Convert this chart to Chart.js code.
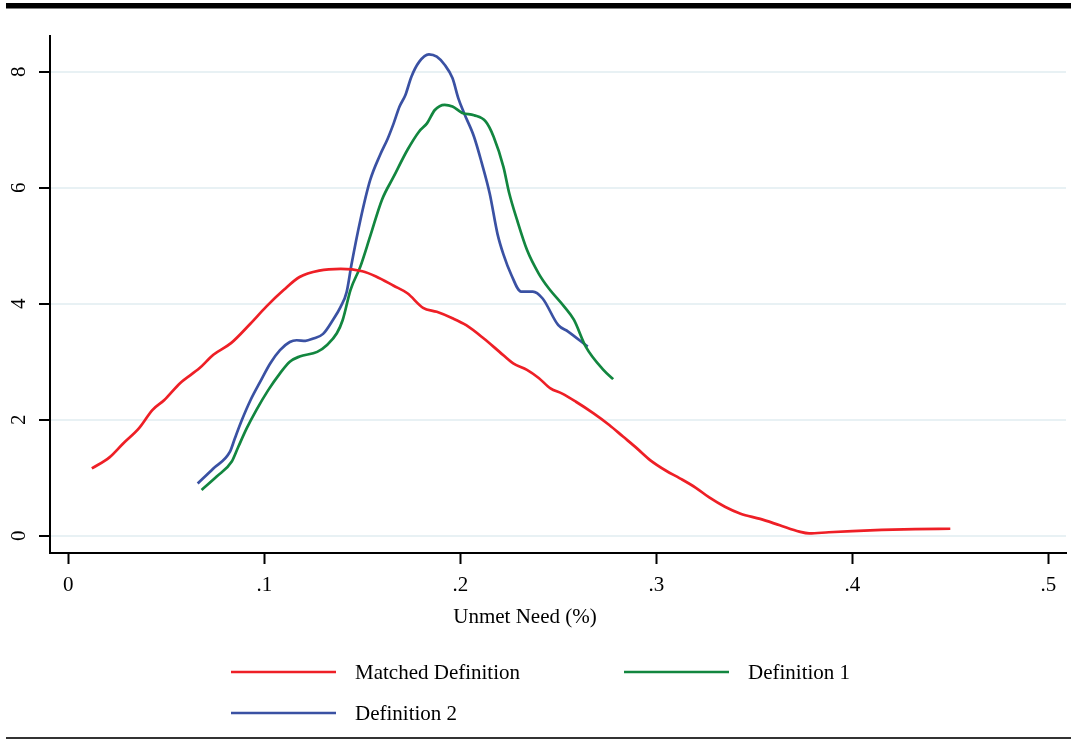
<!DOCTYPE html>
<html>
<head>
<meta charset="utf-8">
<script src="https://cdn.jsdelivr.net/npm/chart.js@4.4.1/dist/chart.umd.min.js"></script>
<style>
  html, body { margin: 0; padding: 0; background: #ffffff; }
  #wrap { width: 1071px; height: 741px; }
</style>
</head>
<body>
<div id="wrap"><canvas id="c" width="1071" height="741"></canvas></div>
<script>
// ---- data ----
const seriesLabels = ["Matched Definition", "Definition 1", "Definition 2"];

const matchedX = [0.012,0.021,0.028,0.036,0.043,0.049,0.057,0.067,0.074,0.083,0.093,0.101,0.110,0.118,0.128,0.139,0.150,0.157,0.166,0.173,0.181,0.188,0.196,0.203,0.212,0.220,0.227,0.234,0.240,0.246,0.252,0.259,0.268,0.276,0.283,0.290,0.297,0.305,0.312,0.320,0.327,0.335,0.343,0.353,0.363,0.373,0.378,0.388,0.400,0.415,0.432,0.450];
const matchedY = [1.16,1.35,1.59,1.85,2.17,2.34,2.63,2.89,3.12,3.32,3.66,3.95,4.24,4.46,4.57,4.60,4.56,4.47,4.31,4.18,3.93,3.86,3.75,3.63,3.40,3.17,2.97,2.86,2.72,2.54,2.45,2.31,2.11,1.91,1.71,1.51,1.30,1.12,0.99,0.83,0.66,0.50,0.38,0.29,0.18,0.07,0.04,0.06,0.08,0.10,0.115,0.12];

const def1X = [0.068,0.0757,0.0834,0.0867,0.091,0.096,0.102,0.108,0.113,0.118,0.127,0.132,0.137,0.140,0.144,0.149,0.154,0.160,0.166,0.173,0.179,0.183,0.187,0.192,0.196,0.201,0.207,0.213,0.217,0.222,0.225,0.229,0.234,0.240,0.245,0.253,0.258,0.264,0.273,0.278];
const def1Y = [0.79,1.02,1.28,1.53,1.85,2.17,2.51,2.80,3.00,3.09,3.17,3.29,3.49,3.72,4.24,4.64,5.16,5.79,6.19,6.65,6.97,7.11,7.34,7.43,7.40,7.29,7.25,7.14,6.88,6.36,5.90,5.44,4.93,4.52,4.27,3.95,3.72,3.26,2.86,2.70];

const def2X = [0.066,0.074,0.0825,0.085,0.0885,0.093,0.098,0.103,0.108,0.113,0.1165,0.121,0.125,0.130,0.135,0.139,0.142,0.1445,0.149,0.154,0.159,0.163,0.166,0.169,0.172,0.175,0.179,0.184,0.188,0.192,0.196,0.199,0.202,0.207,0.211,0.215,0.219,0.222,0.226,0.231,0.237,0.242,0.250,0.255,0.265];
const def2Y = [0.90,1.16,1.45,1.68,1.99,2.34,2.66,2.97,3.20,3.34,3.37,3.36,3.40,3.48,3.72,3.95,4.20,4.68,5.44,6.13,6.56,6.85,7.11,7.40,7.60,7.91,8.17,8.30,8.26,8.12,7.89,7.54,7.28,6.88,6.42,5.90,5.20,4.85,4.50,4.21,4.21,4.09,3.63,3.52,3.26];

const xTickValues = [0, 0.1, 0.2, 0.3, 0.4, 0.5];
const xTickLabels = ["0", ".1", ".2", ".3", ".4", ".5"];
const yTickValues = [0, 2, 4, 6, 8];
const yTickLabels = ["0", "2", "4", "6", "8"];
const xAxisTitle = "Unmet Need (%)";

// ---- styles ----
const colors = ["#ee1f26", "#12863f", "#3a51a3"];
const FONT = "21px 'Liberation Serif', 'Times New Roman', serif";

function pts(xs, ys) { return xs.map((x, i) => ({ x: x, y: ys[i] })); }

const frame = {
  id: 'frame',
  beforeDraw(chart) {
    const ctx = chart.ctx;
    ctx.save();
    ctx.fillStyle = '#ffffff';
    ctx.fillRect(0, 0, chart.width, chart.height);
    ctx.restore();
  },
  afterDraw(chart) {
    const ctx = chart.ctx;
    const xs = chart.scales.x, ys = chart.scales.y;
    ctx.save();
    // top thick rule and bottom thin rule
    ctx.fillStyle = '#000000';
    ctx.fillRect(6, 3, chart.width - 6, 5.5);
    ctx.fillStyle = '#333333';
    ctx.fillRect(6, 737, chart.width - 6, 2);

    ctx.fillStyle = '#000000';
    ctx.font = FONT;
    // x tick labels
    ctx.textAlign = 'center';
    ctx.textBaseline = 'alphabetic';
    xTickValues.forEach((v, i) => {
      ctx.fillText(xTickLabels[i], xs.getPixelForValue(v), 591);
    });
    // y tick labels, rotated
    yTickValues.forEach((v, i) => {
      ctx.save();
      ctx.translate(25, ys.getPixelForValue(v));
      ctx.rotate(-Math.PI / 2);
      ctx.textAlign = 'center';
      ctx.textBaseline = 'alphabetic';
      ctx.fillText(yTickLabels[i], 0, 0);
      ctx.restore();
    });
    // axis title
    ctx.textAlign = 'center';
    ctx.fillText(xAxisTitle, 525, 623);

    // legend
    const items = [
      { x: 231, y: 672, label: seriesLabels[0], color: colors[0] },
      { x: 624, y: 672, label: seriesLabels[1], color: colors[1] },
      { x: 231, y: 713, label: seriesLabels[2], color: colors[2] }
    ];
    items.forEach(it => {
      ctx.strokeStyle = it.color;
      ctx.lineWidth = 2.6;
      ctx.beginPath();
      ctx.moveTo(it.x, it.y);
      ctx.lineTo(it.x + 105, it.y);
      ctx.stroke();
      ctx.fillStyle = '#000000';
      ctx.textAlign = 'left';
      ctx.fillText(it.label, it.x + 124, it.y + 7);
    });
    ctx.restore();
  }
};

new Chart(document.getElementById('c'), {
  type: 'line',
  data: {
    datasets: [
      { label: seriesLabels[0], data: pts(matchedX, matchedY), borderColor: colors[0] },
      { label: seriesLabels[1], data: pts(def1X, def1Y), borderColor: colors[1] },
      { label: seriesLabels[2], data: pts(def2X, def2Y), borderColor: colors[2] }
    ]
  },
  options: {
    responsive: false,
    animation: false,
    events: [],
    layout: { padding: { top: 36, right: 5, bottom: 0, left: 0 } },
    elements: {
      point: { radius: 0 },
      line: { borderWidth: 2.7, fill: false, cubicInterpolationMode: 'monotone' }
    },
    plugins: { legend: { display: false }, tooltip: { enabled: false }, title: { display: false } },
    scales: {
      x: {
        type: 'linear',
        min: -0.00934,
        max: 0.50903,
        afterFit(s) { s.height = 188; },
        afterBuildTicks(s) { s.ticks = xTickValues.map(v => ({ value: v })); },
        ticks: { display: false },
        grid: { drawOnChartArea: false, drawTicks: true, tickLength: 11, tickColor: '#000000', tickWidth: 2 },
        border: { display: true, color: '#000000', width: 2 }
      },
      y: {
        type: 'linear',
        min: -0.298,
        max: 8.616,
        afterFit(s) { s.width = 50; },
        afterBuildTicks(s) { s.ticks = yTickValues.map(v => ({ value: v })); },
        ticks: { display: false },
        grid: { color: '#e8f1f4', lineWidth: 2, drawTicks: true, tickLength: 11, tickColor: '#000000', tickWidth: 2 },
        border: { display: true, color: '#000000', width: 2 }
      }
    }
  },
  plugins: [frame]
});
</script>
</body>
</html>
